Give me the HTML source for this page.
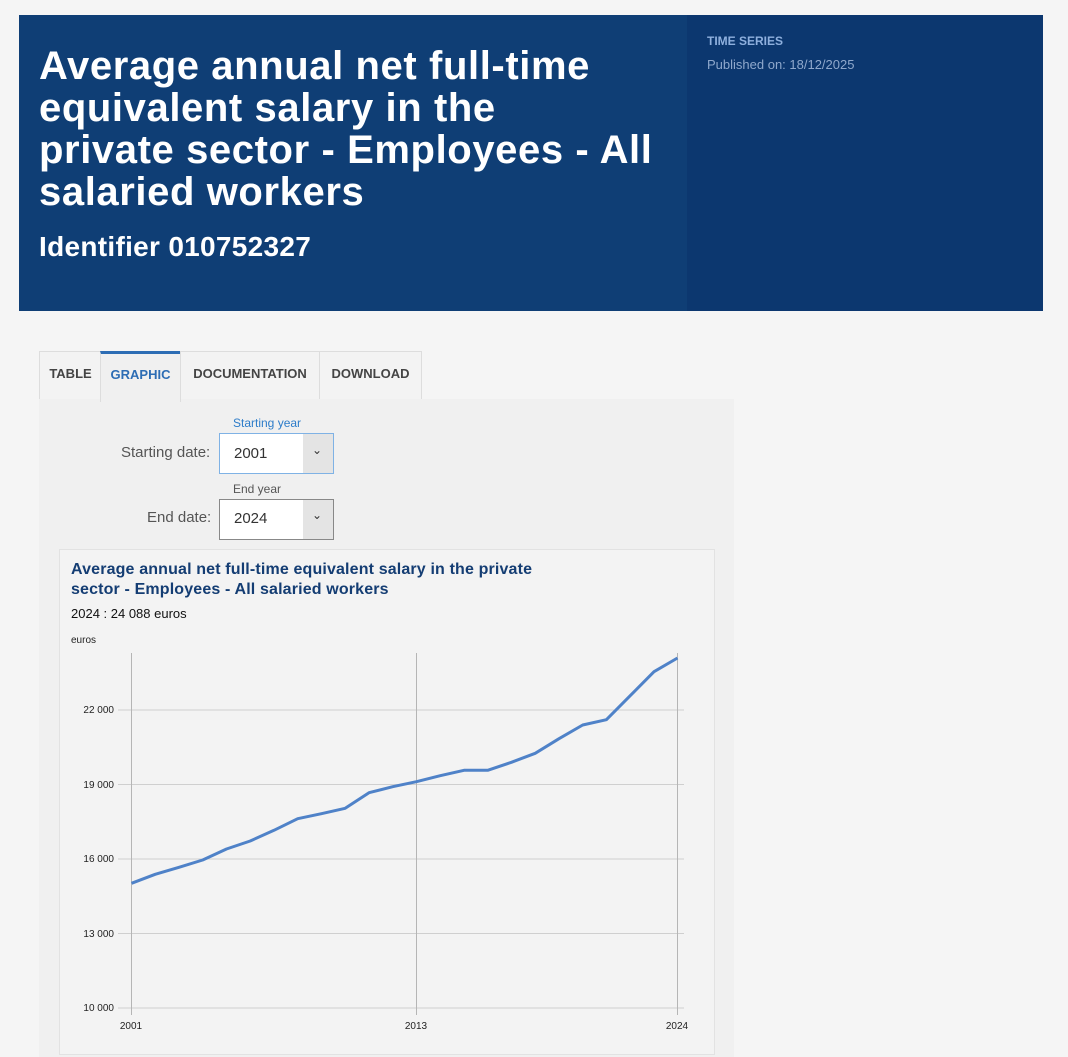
<!DOCTYPE html>
<html><head><meta charset="utf-8"><style>
body{margin:0;width:1068px;height:1057px;background:#f5f5f5;font-family:"Liberation Sans",sans-serif;position:relative;overflow:hidden}
.a{position:absolute;white-space:nowrap}
</style></head><body>
<div class="a" style="left:19px;top:15px;width:668px;height:296px;background:#0f3e75"></div>
<div class="a" style="left:687px;top:15px;width:356px;height:296px;background:#0c376f"></div>
<div class="a" style="left:39px;top:45px;color:#fff;font-size:40px;line-height:42px;font-weight:bold;letter-spacing:0.6px">Average annual net full-time<br>equivalent salary in the<br>private sector - Employees - All<br>salaried workers</div>
<div class="a" style="left:39px;top:230px;color:#fff;font-size:28px;line-height:34px;letter-spacing:0.3px;font-weight:bold">Identifier 010752327</div>
<div class="a" style="left:707px;top:34px;color:#8fb0de;font-size:12px;font-weight:bold">TIME SERIES</div>
<div class="a" style="left:707px;top:57px;color:#8fa8cc;font-size:13px">Published on: 18/12/2025</div>

<div class="a" style="left:39px;top:399px;width:695px;height:658px;background:#f0f0f0"></div>
<div class="a" style="left:39px;top:351px;width:61px;height:47px;border:1px solid #ddd;border-bottom:none;background:#f3f3f3;font-size:13px;font-weight:bold;color:#444;text-align:center;line-height:44px">TABLE</div>
<div class="a" style="left:100px;top:351px;width:79px;height:48px;border:1px solid #ddd;border-top:3px solid #2d6db4;border-bottom:none;background:#f0f0f0;font-size:13px;font-weight:bold;color:#2d6db4;text-align:center;line-height:42px">GRAPHIC</div>
<div class="a" style="left:180px;top:351px;width:138px;height:47px;border:1px solid #ddd;border-bottom:none;background:#f3f3f3;font-size:13px;font-weight:bold;color:#444;text-align:center;line-height:44px">DOCUMENTATION</div>
<div class="a" style="left:319px;top:351px;width:101px;height:47px;border:1px solid #ddd;border-bottom:none;background:#f3f3f3;font-size:13px;font-weight:bold;color:#444;text-align:center;line-height:44px">DOWNLOAD</div>

<div class="a" style="left:233px;top:416px;font-size:12px;color:#2d7cc9">Starting year</div>
<div class="a" style="left:121px;top:444px;font-size:15px;color:#555">Starting date:</div>
<div class="a" style="left:219px;top:433px;width:113px;height:39px;border:1px solid #7fb2e5;background:#fff"></div>
<div class="a" style="left:303px;top:434px;width:30px;height:39px;background:#e4e4e4"></div>
<div class="a" style="left:234px;top:445px;font-size:15px;color:#333">2001</div>
<div class="a" style="left:312px;top:443px;font-size:12px;color:#333">&#8964;</div>
<div class="a" style="left:233px;top:482px;font-size:12px;color:#555">End year</div>
<div class="a" style="left:147px;top:509px;font-size:15px;color:#555">End date:</div>
<div class="a" style="left:219px;top:499px;width:113px;height:39px;border:1px solid #888;background:#fff"></div>
<div class="a" style="left:303px;top:500px;width:30px;height:39px;background:#e4e4e4"></div>
<div class="a" style="left:234px;top:510px;font-size:15px;color:#333">2024</div>
<div class="a" style="left:312px;top:508px;font-size:12px;color:#333">&#8964;</div>

<div class="a" style="left:59px;top:549px;width:654px;height:504px;border:1px solid #e2e2e2;background:#f3f3f3"></div>
<div class="a" style="left:71px;top:560px;font-size:16px;font-weight:bold;color:#143d73;line-height:20px;letter-spacing:0.15px">Average annual net full-time equivalent salary in the private<br>sector - Employees - All salaried workers</div>
<div class="a" style="left:71px;top:606px;font-size:13px;color:#111">2024 : 24 088 euros</div>
<div class="a" style="left:71px;top:635px;font-size:10px;color:#222">euros</div>

<svg class="a" style="left:0;top:0" width="1068" height="1057">
<g stroke="#cfcfcf" stroke-width="1">
<line x1="118" y1="710" x2="684" y2="710"/>
<line x1="118" y1="784.5" x2="684" y2="784.5"/>
<line x1="118" y1="859" x2="684" y2="859"/>
<line x1="118" y1="933.5" x2="684" y2="933.5"/>
<line x1="118" y1="1008" x2="684" y2="1008"/>
</g>
<g stroke="#b5b5b5" stroke-width="1">
<line x1="131.5" y1="653" x2="131.5" y2="1015"/>
<line x1="416.5" y1="653" x2="416.5" y2="1015"/>
<line x1="677.5" y1="653" x2="677.5" y2="1015"/>
</g>
<g font-size="10" fill="#222" font-family="Liberation Sans, sans-serif" text-anchor="end">
<text x="114" y="713">22 000</text>
<text x="114" y="788">19 000</text>
<text x="114" y="862">16 000</text>
<text x="114" y="937">13 000</text>
<text x="114" y="1011">10 000</text>
</g>
<g font-size="10" fill="#222" font-family="Liberation Sans, sans-serif" text-anchor="middle">
<text x="131" y="1029">2001</text>
<text x="416" y="1029">2013</text>
<text x="677" y="1029">2024</text>
</g>
<polyline fill="none" stroke="#4f82c8" stroke-width="3" stroke-linejoin="round" points="131.5,883.3 155.2,874.3 179,867.3 202.7,860 226.5,849 250.2,841 274,830.3 297.7,818.7 321.4,813.7 345.2,808.3 369,792.7 392.7,786.7 416.4,781.7 440.2,775.7 464,770.3 487.7,770.3 511.4,762.3 535.2,753.3 559,738.7 582.7,725 606.4,719.7 630.2,695.7 654,671.7 677.5,658"/>
</svg>
</body></html>
